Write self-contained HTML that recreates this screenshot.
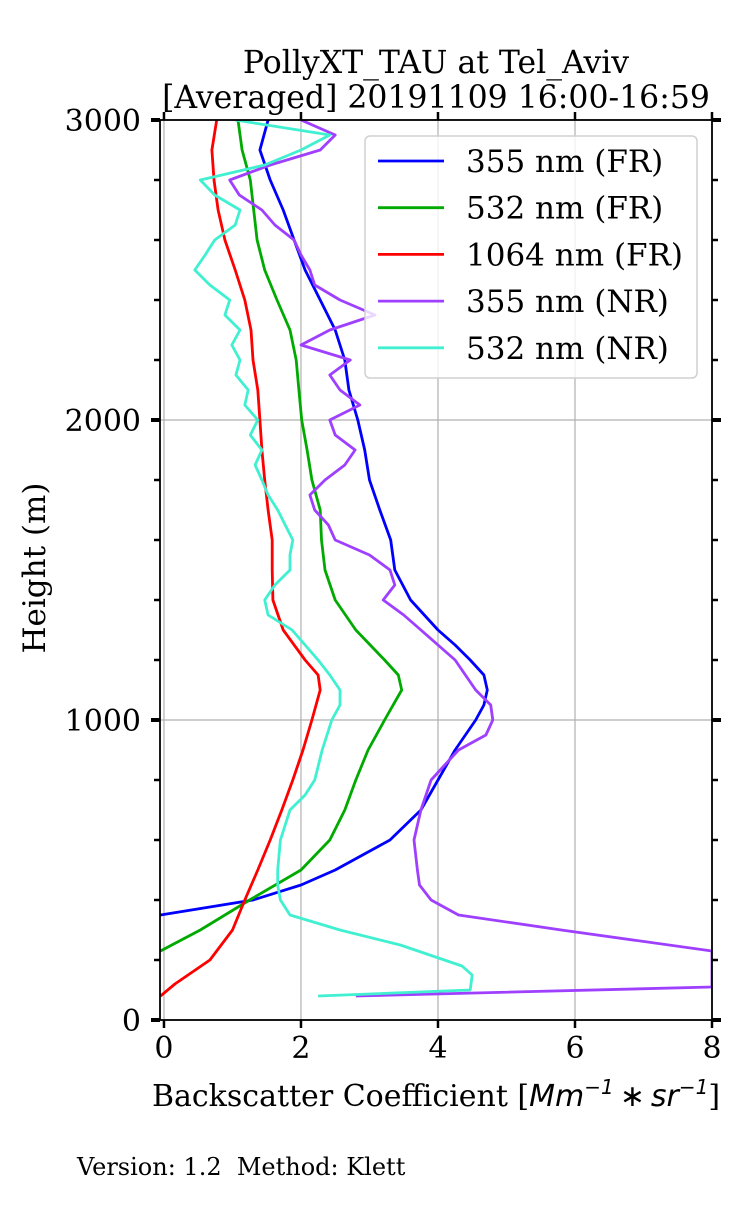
<!DOCTYPE html>
<html><head><meta charset="utf-8"><style>
body{margin:0;background:#fff}
svg text{font-family:"DejaVu Serif","Liberation Serif",serif;fill:#000}
</style></head><body>
<svg width="750" height="1200" viewBox="0 0 750 1200" xmlns="http://www.w3.org/2000/svg" id="chart"></svg>
<script>
const xTicks=[0,2,4,6,8];
const yTicks=[0,1000,2000,3000];
const seriesNames=["355 nm (FR)","532 nm (FR)","1064 nm (FR)","355 nm (NR)","532 nm (NR)"];
const seriesColors=["#0000ff","#00aa00","#ff0000","#9f3fff","#40f0d0"];
const blueH=[350,400,450,500,550,600,700,800,900,1000,1050,1100,1150,1200,1250,1300,1400,1500,1600,1700,1800,1900,2000,2100,2200,2300,2400,2500,2600,2700,2800,2900,3000];
const blueV=[-0.05,1.3,2.0,2.5,2.9,3.3,3.75,4.0,4.25,4.55,4.67,4.72,4.67,4.47,4.25,4.0,3.6,3.37,3.31,3.15,3.0,2.93,2.83,2.7,2.64,2.5,2.28,2.06,1.9,1.74,1.55,1.4,1.52];
const greenH=[230,300,400,500,600,700,800,900,1000,1100,1150,1200,1300,1400,1500,1600,1700,1800,1900,2000,2100,2200,2300,2400,2500,2600,2700,2800,2900,3000];
const greenV=[-0.05,0.53,1.25,2.0,2.42,2.64,2.8,2.98,3.22,3.47,3.42,3.22,2.8,2.5,2.35,2.3,2.28,2.16,2.09,2.01,1.97,1.93,1.84,1.65,1.47,1.36,1.31,1.26,1.14,1.08];
const redH=[80,120,200,300,400,500,600,700,800,900,1000,1100,1150,1200,1300,1400,1500,1600,1700,1800,1900,2000,2100,2200,2300,2400,2500,2600,2700,2800,2900,3000];
const redV=[-0.05,0.16,0.67,1.0,1.18,1.37,1.55,1.72,1.88,2.03,2.16,2.28,2.25,2.06,1.74,1.59,1.58,1.58,1.52,1.47,1.43,1.4,1.37,1.3,1.27,1.18,1.04,0.89,0.79,0.73,0.7,0.77];
const purpleH=[80,110,230,300,350,400,450,500,600,700,800,850,900,950,1000,1050,1100,1150,1200,1250,1300,1350,1400,1450,1500,1550,1600,1650,1700,1750,1800,1850,1900,1950,2000,2050,2100,2150,2200,2250,2300,2350,2400,2450,2500,2550,2600,2650,2700,2750,2800,2850,2900,2950,3000];
const purpleV=[2.8,8.0,8.0,5.8,4.3,3.9,3.73,3.7,3.65,3.75,3.9,4.1,4.3,4.7,4.8,4.77,4.55,4.4,4.25,4.0,3.75,3.5,3.2,3.37,3.3,3.0,2.5,2.4,2.2,2.13,2.35,2.64,2.79,2.5,2.42,2.86,2.57,2.42,2.72,2.0,2.42,3.08,2.57,2.2,2.13,2.0,1.9,1.62,1.43,1.1,0.96,1.55,2.28,2.5,2.0];
const cyanH=[80,100,150,180,250,300,350,400,450,500,600,700,750,800,900,1000,1050,1100,1150,1200,1250,1300,1350,1400,1450,1500,1550,1600,1650,1700,1750,1800,1850,1900,1950,2000,2050,2100,2150,2200,2250,2300,2350,2400,2450,2500,2550,2600,2650,2700,2750,2800,2850,2900,2950,3000];
const cyanV=[2.25,4.47,4.5,4.35,3.45,2.57,1.84,1.7,1.66,1.66,1.7,1.84,2.06,2.2,2.31,2.45,2.57,2.57,2.42,2.25,2.06,1.87,1.52,1.47,1.62,1.84,1.84,1.88,1.77,1.66,1.52,1.43,1.33,1.43,1.26,1.37,1.18,1.23,1.05,1.11,0.99,1.11,0.89,0.96,0.67,0.45,0.6,0.74,1.04,1.11,0.74,0.53,1.47,2.0,2.42,1.04];
const allH=[blueH,greenH,redH,purpleH,cyanH];
const allV=[blueV,greenV,redV,purpleV,cyanV];

const L=160,R=712,T=120,B=1020,XMIN=-0.058,XMAX=8,YMIN=0,YMAX=3000;
const sx=v=>L+(v-XMIN)/(XMAX-XMIN)*(R-L);
const sy=h=>B-(h-YMIN)/(YMAX-YMIN)*(B-T);
const svg=document.getElementById('chart');
const NS='http://www.w3.org/2000/svg';
function mk(tag,attrs,parent){const e=document.createElementNS(NS,tag);for(const k in attrs)e.setAttribute(k,attrs[k]);(parent||svg).appendChild(e);return e;}

const defs=mk('defs',{});const cp=mk('clipPath',{id:'clip'},defs);mk('rect',{x:L,y:T,width:R-L,height:B-T},cp);

const grid=mk('g',{});


xTicks.forEach(t=>{const l=mk('line',{x1:sx(t),x2:sx(t),y1:T,y2:B,stroke:'#b0b0b0','stroke-width':1.2},grid);

});
yTicks.forEach(t=>{const l=mk('line',{x1:L,x2:R,y1:sy(t),y2:sy(t),stroke:'#b0b0b0','stroke-width':1.2},grid);

});

const lines=mk('g',{'clip-path':'url(#clip)'});
allH.forEach((hs,i)=>{
  const pts=hs.map((h,j)=>sx(allV[i][j]).toFixed(1)+','+sy(h).toFixed(1)).join(' ');
  const p=mk('polyline',{points:pts,fill:'none',stroke:seriesColors[i],'stroke-width':2.8,'stroke-linejoin':'round'},lines);
  
  
});

const fr=mk('rect',{x:L,y:T,width:R-L,height:B-T,fill:'none',stroke:'#000','stroke-width':1.8});



const tk=mk('g',{stroke:'#000'});


xTicks.forEach(t=>{const x=sx(t);
  mk('line',{x1:x,x2:x,y1:B,y2:B+8,'stroke-width':2.5},tk);
  mk('line',{x1:x,x2:x,y1:T,y2:T-8,'stroke-width':2.5},tk);
  const tx=mk('text',{x:x,y:B+38,'text-anchor':'middle','font-size':30,stroke:'none'});
  tx.textContent=t;
  
  
});
for(let h=0;h<=3000;h+=200){const y=sy(h);const maj=h%1000===0;
  mk('line',{x1:L,x2:L-(maj?9:6),y1:y,y2:y,'stroke-width':maj?4:2.5},tk);
  mk('line',{x1:R,x2:R+(maj?9:6),y1:y,y2:y,'stroke-width':maj?4:2.5},tk);
}
yTicks.forEach(t=>{const tx=mk('text',{x:L-19,y:sy(t)+11,'text-anchor':'end','font-size':30});
  tx.textContent=t;
  
  });

const t1=mk('text',{x:436,y:73,'text-anchor':'middle','font-size':31.5});t1.textContent='PollyXT_TAU at Tel_Aviv';


const t2=mk('text',{x:436,y:108,'text-anchor':'middle','font-size':31.5});t2.textContent='[Averaged] 20191109 16:00-16:59';


const yl=mk('text',{x:0,y:0,'text-anchor':'middle','font-size':31,transform:'translate(45,568) rotate(-90)'});yl.textContent='Height (m)';


const xl=mk('text',{x:436,y:1106,'text-anchor':'middle','font-size':30});
xl.innerHTML='Backscatter Coefficient [<tspan font-style="italic" font-family="DejaVu Sans">Mm</tspan><tspan font-size="20" dy="-12" font-style="italic" font-family="DejaVu Sans">−1</tspan><tspan dy="12" font-family="DejaVu Sans">\u2009∗\u2009</tspan><tspan font-style="italic" font-family="DejaVu Sans">sr</tspan><tspan font-size="20" dy="-12" font-style="italic" font-family="DejaVu Sans">−1</tspan><tspan dy="12">]</tspan>';


const vt=mk('text',{x:77,y:1175,'font-size':24});vt.textContent='Version: 1.2\u00a0\u00a0Method: Klett';



const lg=mk('g',{});


mk('rect',{x:365,y:136,width:332,height:242,rx:5,fill:'#fff','fill-opacity':0.8,stroke:'#d0d0d0','stroke-width':1.5},lg);
seriesNames.forEach((n,i)=>{const y=161+i*46.7;
  const ln=mk('line',{x1:378,x2:444,y1:y,y2:y,stroke:seriesColors[i],'stroke-width':2.8},lg);
  
  
  const tx=mk('text',{x:466,y:y+11,'font-size':31},lg);tx.textContent=n;
  
  
});
</script>
</body></html>
